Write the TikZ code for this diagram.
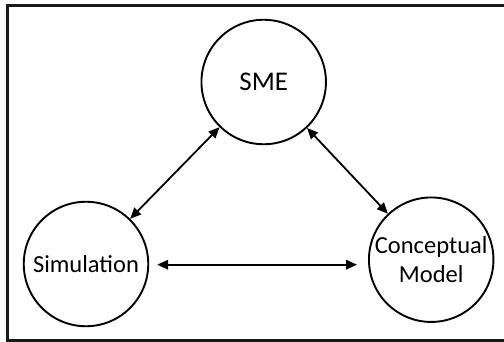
\documentclass[tikz,border=0pt]{standalone}
\usepackage{fontspec}
\setmainfont{Carlito}
\usetikzlibrary{arrows.meta}
\begin{document}
\begin{tikzpicture}[x=1pt,y=-1pt,
  party/.style={circle,draw=black,line width=1.9pt,minimum size=124.5pt,inner sep=0pt,
                align=center,font=\fontsize{24.5}{29}\selectfont},
  link/.style={line width=1.8pt,{Triangle[length=11pt,width=9.5pt]}-{Triangle[length=11pt,width=9.5pt]}}]
  \useasboundingbox (0,0) rectangle (504,342);
  \clip (0,0) rectangle (504,342);
  % outer frame (right side runs past the edge)
  \draw[line width=2.2pt,black!90] (7.5,5.5) rectangle (520,340.5);
  % the three parties
  \node[party,font=\fontsize{27}{32}\selectfont] (sme) at (263.7,82) {SME};
  \node[party] (sim) at (86,264) {Simulation};
  \node[party] (cm) at (431.2,259.7) {Conceptual\\Model};
  % two-way links
  \draw[link] (sme) -- (sim);
  \draw[link] (sme) -- (cm);
  \coordinate (simr) at ([xshift=8pt,yshift=-0.7pt]sim.east);
  \coordinate (cml) at ([xshift=-11pt]cm.west |- simr);
  \draw[link] (simr) -- (cml);
\end{tikzpicture}
\end{document}
